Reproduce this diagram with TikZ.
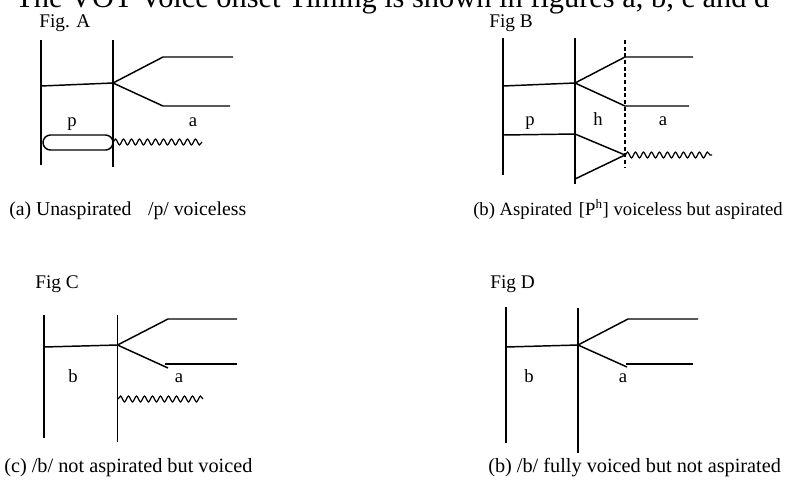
\documentclass[tikz,border=0pt]{standalone}
\usepackage{fontspec}
\setmainfont{Liberation Serif}
\usetikzlibrary{decorations.pathmorphing}
\begin{document}
\begin{tikzpicture}[x=0.75pt,y=-0.75pt,
  ln/.style={line width=1.1pt},
  wig/.style={line width=0.9pt,decorate,decoration={snake,segment length=6pt,amplitude=2.2pt}},
  dsh/.style={line width=1pt,dash pattern=on 3pt off 2pt},
  lbl/.style={inner sep=0pt,anchor=base,font=\fontsize{14}{16}\selectfont},
  captxt/.style={inner sep=0pt,anchor=base west},
  figl/.style={inner sep=0pt,anchor=base west,font=\fontsize{14.5}{16}\selectfont}]
\useasboundingbox (0,0) rectangle (785,479);
\begin{scope}
\clip (0,0) rectangle (785,479);
\node[inner sep=0pt,anchor=base west,font=\fontsize{22.8}{26}\selectfont] (title) at (15,7) {The VOT Voice onset Timing is shown in figures a, b, c and d};
\end{scope}
% ---------- Fig A ----------
\node[figl] (figA) at (39,27) {Fig. A};
\coordinate (A1t) at (41,40); \coordinate (A1b) at (41,165);
\coordinate (A2t) at (113,40); \coordinate (A2b) at (113,167);
\coordinate (Ah) at (41,86); \coordinate (Aj) at (113,83);
\coordinate (Au) at (163,57); \coordinate (Aue) at (233,57);
\coordinate (Al) at (163,106); \coordinate (Ale) at (230,106);
\coordinate (Aw1) at (113,142); \coordinate (Aw2) at (202,142);
\draw[ln] (A1t) -- (A1b);
\draw[ln] (A2t) -- (A2b);
\draw[ln] (Ah) -- (Aj);
\draw[ln] (Aj) -- (Au) -- (Aue);
\draw[ln] (Aj) -- (Al) -- (Ale);
\draw[ln,rounded corners=5.6pt] (43,135) rectangle (113,150);
\draw[wig] (Aw1) -- (Aw2);
\node[lbl] (Ap) at (72,126) {p};
\node[lbl] (Aa) at (193,126) {a};
\node[captxt,font=\fontsize{14.8}{17}\selectfont] (capA) at (9,215) {(a) Unaspirated\hspace{12.5pt}/p/ voiceless};
% ---------- Fig B ----------
\node[figl] (figB) at (489,27) {Fig B};
\coordinate (B1t) at (503,38); \coordinate (B1b) at (503,175);
\coordinate (B2t) at (575,38); \coordinate (B2b) at (575,184);
\coordinate (B3t) at (625,40); \coordinate (B3b) at (625,168);
\coordinate (Bh) at (503,86); \coordinate (Bj) at (575,83);
\coordinate (Bu) at (625,57); \coordinate (Bue) at (693,57);
\coordinate (Bl) at (625,106); \coordinate (Ble) at (689,106);
\coordinate (Bh2) at (503,135); \coordinate (Bj2) at (575,134);
\coordinate (Bt) at (625,155); \coordinate (Bt2) at (575,179);
\coordinate (Bw2) at (712,155);
\draw[ln] (B1t) -- (B1b);
\draw[ln] (B2t) -- (B2b);
\draw[dsh] (B3t) -- (B3b);
\draw[ln] (Bh) -- (Bj);
\draw[ln] (Bj) -- (Bu) -- (Bue);
\draw[ln] (Bj) -- (Bl) -- (Ble);
\draw[ln] (Bh2) -- (Bj2) -- (Bt) -- (Bt2);
\draw[wig] (Bt) -- (Bw2);
\node[lbl] (Bp) at (530,125) {p};
\node[lbl] (Bhh) at (598,125) {h};
\node[lbl] (Ba) at (663,125) {a};
\node[captxt,font=\fontsize{14}{16}\selectfont] (capB) at (473,215) {(b) Aspirated\hspace{5pt}[P\textsuperscript{h}] voiceless but aspirated};
% ---------- Fig C ----------
\node[figl] (figC) at (35,288) {Fig C};
\coordinate (C1t) at (44,315); \coordinate (C1b) at (44,438);
\coordinate (C2t) at (117.5,315); \coordinate (C2b) at (117.5,442);
\coordinate (Ch) at (44,347); \coordinate (Cj) at (117.5,345);
\coordinate (Cu) at (168,319); \coordinate (Cue) at (237,319);
\coordinate (Cl) at (168,368); \coordinate (Cls) at (165,364); \coordinate (Cle) at (237,364);
\coordinate (Cw1) at (118,399); \coordinate (Cw2) at (203,399);
\draw[ln] (C1t) -- (C1b);
\draw[ln] (C2t) -- (C2b);
\draw[ln] (Ch) -- (Cj);
\draw[ln] (Cj) -- (Cu) -- (Cue);
\draw[ln] (Cj) -- (Cl);
\draw[ln] (Cls) -- (Cle);
\draw[wig] (Cw1) -- (Cw2);
\node[lbl] (Cb) at (73,382) {b};
\node[lbl] (Ca) at (179,382) {a};
\node[captxt,font=\fontsize{15.2}{17}\selectfont] (capC) at (4,472) {(c) /b/ not aspirated but voiced};
% ---------- Fig D ----------
\node[figl] (figD) at (490,288) {Fig D};
\coordinate (D1t) at (506,307); \coordinate (D1b) at (506,443);
\coordinate (D2t) at (578,308); \coordinate (D2b) at (578,453);
\coordinate (Dh) at (506,347); \coordinate (Dj) at (578,345);
\coordinate (Du) at (628,319); \coordinate (Due) at (698,319);
\coordinate (Dl) at (627,367); \coordinate (Dls) at (626,364); \coordinate (Dle) at (693,364);
\draw[ln] (D1t) -- (D1b);
\draw[ln] (D2t) -- (D2b);
\draw[ln] (Dh) -- (Dj);
\draw[ln] (Dj) -- (Du) -- (Due);
\draw[ln] (Dj) -- (Dl);
\draw[ln] (Dls) -- (Dle);
\node[lbl] (Db) at (529,382) {b};
\node[lbl] (Da) at (623,382) {a};
\node[captxt,font=\fontsize{15.2}{17}\selectfont] (capD) at (488,472) {(b) /b/ fully voiced but not aspirated};
\end{tikzpicture}
\end{document}
